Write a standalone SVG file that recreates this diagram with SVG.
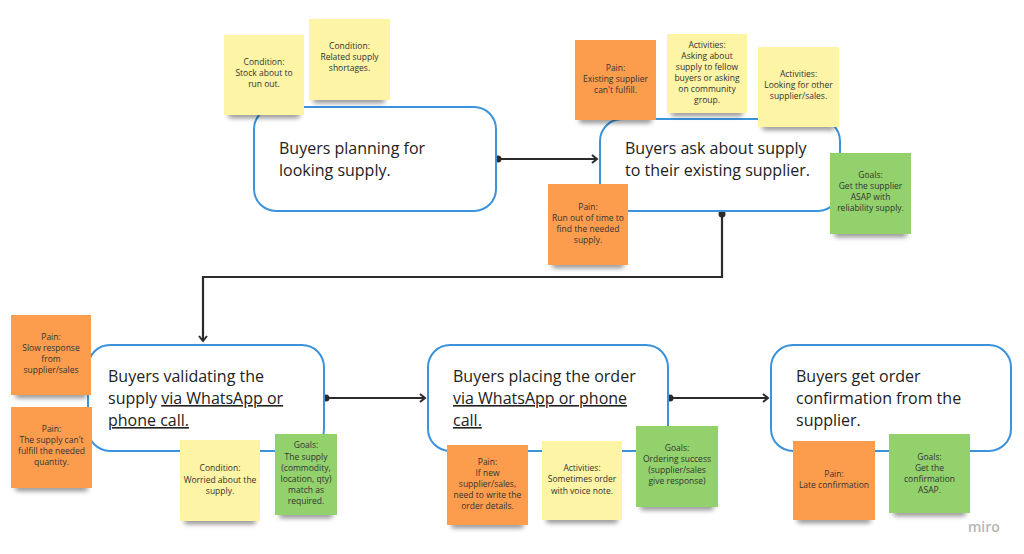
<svg xmlns="http://www.w3.org/2000/svg" width="1024" height="554" viewBox="0 0 1024 554">
<defs>
<style>
.box{fill:#fff;stroke:#3b93dc;stroke-width:2}
.bt{font-family:"Open Sans","Noto Sans",sans-serif;font-size:16px;fill:#222}
.u{text-decoration:underline}
.st{font-family:"Open Sans","Noto Sans",sans-serif;font-size:8.5px;fill:#333;text-anchor:middle}
.y{fill:#fdf4a5}
.o{fill:#fc9d4e}
.g{fill:#93d16c}
.sh{fill:#000;opacity:0.45;filter:url(#blur)}
.con{fill:none;stroke:#2b2b2b;stroke-width:2.2}
.dot{fill:#2b2b2b}
</style>
<filter id="blur" x="-20%" y="-100%" width="140%" height="300%"><feGaussianBlur stdDeviation="2.5"/></filter>
<marker id="arr" markerWidth="10" markerHeight="10" refX="7" refY="5" orient="auto" markerUnits="userSpaceOnUse">
<path d="M2,1 L7,5 L2,9" fill="none" stroke="#2b2b2b" stroke-width="2"/>
</marker>
</defs>
<rect width="1024" height="554" fill="#fff"/>

<g id="connectors">
<line class="con" x1="498" y1="159" x2="597" y2="159" marker-end="url(#arr)"/>
<circle class="dot" cx="498" cy="159" r="3.5"/>
<polyline class="con" points="722,214 722,277 203,277 203,341" marker-end="url(#arr)"/>
<circle class="dot" cx="722" cy="214" r="3.5"/>
<line class="con" x1="326" y1="398" x2="425" y2="398" marker-end="url(#arr)"/>
<circle class="dot" cx="326" cy="398" r="3.5"/>
<line class="con" x1="670" y1="398" x2="768" y2="398" marker-end="url(#arr)"/>
<circle class="dot" cx="670" cy="398" r="3.5"/>
</g>

<g id="node1">
<rect class="box" x="254" y="107" width="242" height="104" rx="22"/>
<text class="bt" x="279" y="154">Buyers planning for</text>
<text class="bt" x="279" y="176">looking supply.</text>
</g>
<g id="node2">
<rect class="box" x="600" y="119" width="240" height="92" rx="22"/>
<text class="bt" x="625" y="154">Buyers ask about supply</text>
<text class="bt" x="625" y="176">to their existing supplier.</text>
</g>
<g id="node3">
<rect class="box" x="88" y="345" width="236" height="106" rx="22"/>
<text class="bt" x="108" y="382">Buyers validating the</text>
<text class="bt" x="108" y="404">supply <tspan class="u">via WhatsApp or </tspan></text>
<text class="bt" x="108" y="426"><tspan class="u">phone call.</tspan></text>
</g>
<g id="node4">
<rect class="box" x="428" y="345" width="240" height="106" rx="22"/>
<text class="bt" x="453" y="382">Buyers placing the order</text>
<text class="bt" x="453" y="404"><tspan class="u">via WhatsApp or phone </tspan></text>
<text class="bt" x="453" y="426"><tspan class="u">call.</tspan></text>
</g>
<g id="node5">
<rect class="box" x="771" y="345" width="240" height="106" rx="22"/>
<text class="bt" x="796" y="382">Buyers get order</text>
<text class="bt" x="796" y="404">confirmation from the</text>
<text class="bt" x="796" y="426">supplier.</text>
</g>

<g id="sticky1">
<rect class="sh" x="228" y="112" width="72" height="6" rx="3"/>
<rect class="y" x="224" y="35" width="80" height="80"/>
<text class="st" x="264" y="65">Condition:</text>
<text class="st" x="264" y="76">Stock about to</text>
<text class="st" x="264" y="87">run out.</text>
</g>
<g id="sticky2">
<rect class="sh" x="313" y="97" width="72" height="6" rx="3"/>
<rect class="y" x="309" y="19" width="81" height="81"/>
<text class="st" x="349.5" y="49">Condition:</text>
<text class="st" x="349.5" y="60">Related supply</text>
<text class="st" x="349.5" y="71">shortages.</text>
</g>
<g id="sticky3">
<rect class="sh" x="579" y="117" width="73" height="6" rx="3"/>
<rect class="o" x="575" y="40" width="81" height="80"/>
<text class="st" x="615.5" y="71">Pain:</text>
<text class="st" x="615.5" y="82">Existing supplier</text>
<text class="st" x="615.5" y="93">can't fulfill.</text>
</g>
<g id="sticky4">
<rect class="sh" x="671" y="110" width="72" height="6" rx="3"/>
<rect class="y" x="667" y="34" width="80" height="79"/>
<text class="st" x="707" y="48">Activities:</text>
<text class="st" x="707" y="59">Asking about</text>
<text class="st" x="707" y="70">supply to fellow</text>
<text class="st" x="707" y="81">buyers or asking</text>
<text class="st" x="707" y="92">on community</text>
<text class="st" x="707" y="103">group.</text>
</g>
<g id="sticky5">
<rect class="sh" x="762" y="124" width="73" height="6" rx="3"/>
<rect class="y" x="758" y="47" width="81" height="80"/>
<text class="st" x="798.5" y="77">Activities:</text>
<text class="st" x="798.5" y="88">Looking for other</text>
<text class="st" x="798.5" y="99">supplier/sales.</text>
</g>
<g id="sticky6">
<rect class="sh" x="552" y="262" width="72" height="6" rx="3"/>
<rect class="o" x="548" y="184" width="80" height="81"/>
<text class="st" x="588" y="210">Pain:</text>
<text class="st" x="588" y="221">Run out of time to</text>
<text class="st" x="588" y="232">find the needed</text>
<text class="st" x="588" y="243">supply.</text>
</g>
<g id="sticky7">
<rect class="sh" x="834" y="231" width="73" height="6" rx="3"/>
<rect class="g" x="830" y="153" width="81" height="81"/>
<text class="st" x="870.5" y="178">Goals:</text>
<text class="st" x="870.5" y="189">Get the supplier</text>
<text class="st" x="870.5" y="200">ASAP with</text>
<text class="st" x="870.5" y="211">reliability supply.</text>
</g>
<g id="sticky8">
<rect class="sh" x="15" y="392" width="72" height="6" rx="3"/>
<rect class="o" x="11" y="315" width="80" height="80"/>
<text class="st" x="51" y="340">Pain:</text>
<text class="st" x="51" y="351">Slow response</text>
<text class="st" x="51" y="362">from</text>
<text class="st" x="51" y="373">supplier/sales</text>
</g>
<g id="sticky9">
<rect class="sh" x="15" y="485" width="73" height="6" rx="3"/>
<rect class="o" x="11" y="407" width="81" height="81"/>
<text class="st" x="51.5" y="432">Pain:</text>
<text class="st" x="51.5" y="443">The supply can't</text>
<text class="st" x="51.5" y="454">fulfill the needed</text>
<text class="st" x="51.5" y="465">quantity.</text>
</g>
<g id="sticky10">
<rect class="sh" x="184" y="518" width="72" height="6" rx="3"/>
<rect class="y" x="180" y="440" width="80" height="81"/>
<text class="st" x="220" y="471">Condition:</text>
<text class="st" x="220" y="483">Worried about the</text>
<text class="st" x="220" y="494">supply.</text>
</g>
<g id="sticky11">
<rect class="sh" x="279" y="512" width="54" height="6" rx="3"/>
<rect class="g" x="275" y="434" width="62" height="81"/>
<text class="st" x="306" y="448">Goals:</text>
<text class="st" x="306" y="460">The supply</text>
<text class="st" x="306" y="471">(commodity,</text>
<text class="st" x="306" y="482">location, qty)</text>
<text class="st" x="306" y="493">match as</text>
<text class="st" x="306" y="504">required.</text>
</g>
<g id="sticky12">
<rect class="sh" x="451" y="522" width="73" height="6" rx="3"/>
<rect class="o" x="447" y="445" width="81" height="80"/>
<text class="st" x="487.5" y="465">Pain:</text>
<text class="st" x="487.5" y="476">If new</text>
<text class="st" x="487.5" y="487">supplier/sales,</text>
<text class="st" x="487.5" y="498">need to write the</text>
<text class="st" x="487.5" y="509">order details.</text>
</g>
<g id="sticky13">
<rect class="sh" x="546" y="517" width="72" height="6" rx="3"/>
<rect class="y" x="542" y="441" width="80" height="79"/>
<text class="st" x="582" y="471">Activities:</text>
<text class="st" x="582" y="482">Sometimes order</text>
<text class="st" x="582" y="494">with voice note.</text>
</g>
<g id="sticky14">
<rect class="sh" x="640" y="504" width="74" height="6" rx="3"/>
<rect class="g" x="636" y="426" width="82" height="81"/>
<text class="st" x="677" y="451">Goals:</text>
<text class="st" x="677" y="462">Ordering success</text>
<text class="st" x="677" y="473">(supplier/sales</text>
<text class="st" x="677" y="484">give response)</text>
</g>
<g id="sticky15">
<rect class="sh" x="797" y="517" width="74" height="6" rx="3"/>
<rect class="o" x="793" y="441" width="82" height="79"/>
<text class="st" x="834" y="477">Pain:</text>
<text class="st" x="834" y="488">Late confirmation</text>
</g>
<g id="sticky16">
<rect class="sh" x="893" y="510" width="73" height="6" rx="3"/>
<rect class="g" x="889" y="434" width="81" height="79"/>
<text class="st" x="929.5" y="460">Goals:</text>
<text class="st" x="929.5" y="471">Get the</text>
<text class="st" x="929.5" y="482">confirmation</text>
<text class="st" x="929.5" y="493">ASAP.</text>
</g>

<text x="968" y="532" font-family="Open Sans, Noto Sans, sans-serif" font-size="14" font-weight="600" fill="#b5b5b5">miro</text>
</svg>
